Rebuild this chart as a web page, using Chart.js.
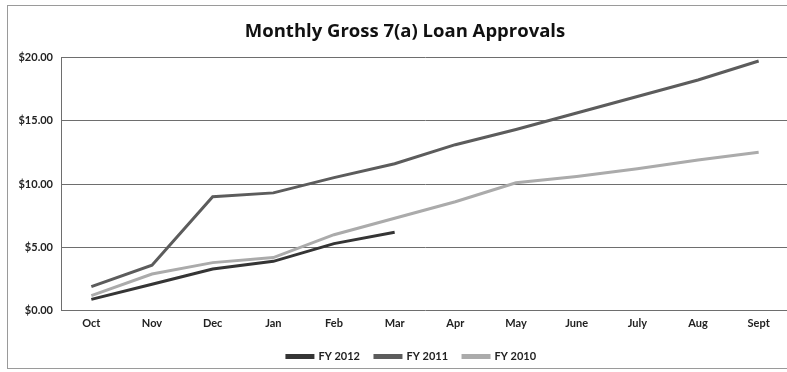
<!DOCTYPE html>
<html>
<head>
<meta charset="utf-8">
<title>Monthly Gross 7(a) Loan Approvals</title>
<script src="https://cdn.jsdelivr.net/npm/chart.js@4.4.1/dist/chart.umd.min.js"></script>
<style>
  html, body { margin: 0; padding: 0; background: #fff; overflow: hidden; }
  #wrap { position: relative; width: 796px; height: 372px; }
</style>
</head>
<body>
<div id="wrap"><canvas id="loanChart"></canvas></div>
<script>
const months = ['Oct', 'Nov', 'Dec', 'Jan', 'Feb', 'Mar', 'Apr', 'May', 'June', 'July', 'Aug', 'Sept'];

// cumulative approvals, $ billions
const fy2012 = [0.9, 2.1, 3.3, 3.9, 5.3, 6.2];
const fy2011 = [1.9, 3.6, 9.0, 9.3, 10.5, 11.6, 13.1, 14.3, 15.6, 16.9, 18.2, 19.7];
const fy2010 = [1.2, 2.9, 3.8, 4.2, 6.0, 7.3, 8.6, 10.1, 10.6, 11.2, 11.9, 12.5];

const yTicks = [0, 5, 10, 15, 20];

const FONT = 'Lato, "Open Sans", sans-serif';

// thin frame round the whole chart; title and legend nudged a little right
const frame = {
  id: 'frame',
  afterLayout(chart) {
    if (chart.titleBlock) chart.titleBlock.left += 21;
    if (chart.legend) chart.legend.left += 34;
  },
  beforeDraw(chart) {
    const c = chart.ctx;
    c.save();
    c.strokeStyle = '#9a9a9a';
    c.lineWidth = 1;
    c.strokeRect(7.5, 5.5, 800, 363);
    c.restore();
  }
};

const ctx = document.getElementById('loanChart').getContext('2d');
new Chart(ctx, {
  type: 'line',
  data: {
    labels: months,
    datasets: [
      { label: 'FY 2012', data: fy2012, borderColor: '#353535', backgroundColor: '#353535' },
      { label: 'FY 2011', data: fy2011, borderColor: '#5c5c5c', backgroundColor: '#5c5c5c' },
      { label: 'FY 2010', data: fy2010, borderColor: '#ababab', backgroundColor: '#ababab' }
    ].map(d => Object.assign(d, { borderWidth: 3, pointRadius: 0, tension: 0, fill: false }))
  },
  options: {
    responsive: true,
    maintainAspectRatio: false,
    animation: false,
    layout: { padding: { left: 0, right: 7, top: 0, bottom: 0 } },
    plugins: {
      title: {
        display: true,
        text: 'Monthly Gross 7(a) Loan Approvals',
        color: '#111',
        font: { family: '"Open Sans", sans-serif', size: 18.5, weight: 'bold' },
        padding: { top: 21, bottom: 14 }
      },
      legend: {
        position: 'bottom',
        labels: {
          color: '#222',
          font: { family: FONT, size: 11, weight: 'bold' },
          boxWidth: 26,
          boxHeight: 2,
          padding: 15
        }
      },
      tooltip: { enabled: false }
    },
    scales: {
      x: {
        offset: true,
        grid: { display: false, drawTicks: false },
        border: { display: false },
        ticks: {
          color: '#222',
          padding: 6,
          font: { family: FONT, size: 11, weight: 'bold' }
        }
      },
      y: {
        min: 0,
        max: 20,
        afterFit(scale) { scale.width = 61; },
        afterBuildTicks(scale) { scale.ticks = yTicks.map(v => ({ value: v })); },
        grid: { color: '#6e6e6e', lineWidth: 1, drawTicks: false },
        border: { display: true, color: '#6e6e6e', width: 1 },
        ticks: {
          color: '#222',
          padding: 8,
          font: { family: FONT, size: 11, weight: 'bold' },
          callback: v => '$' + v.toFixed(2)
        }
      }
    }
  },
  plugins: [frame]
});
</script>
</body>
</html>
